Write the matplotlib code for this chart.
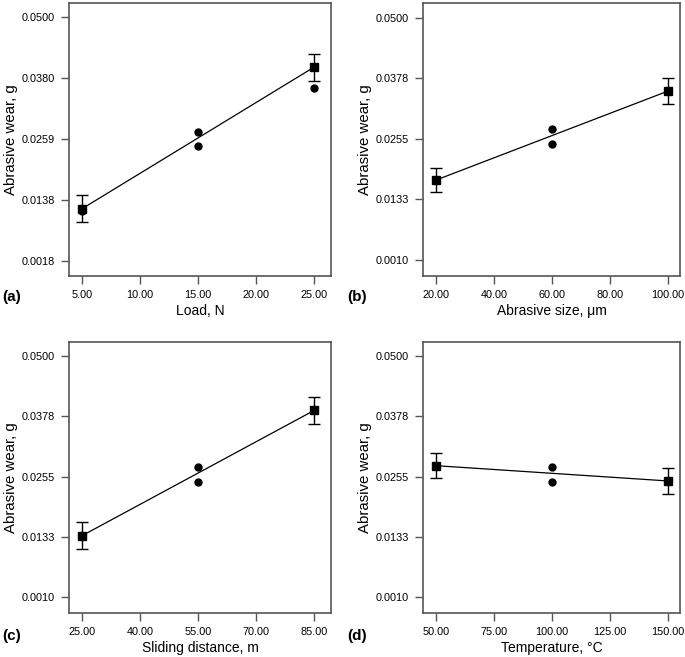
import matplotlib
matplotlib.use("Agg")
import matplotlib.pyplot as plt

plt.rcParams['font.family'] = ['Liberation Sans', 'DejaVu Sans']

# ---- data ----
labels = ["(a)", "(b)", "(c)", "(d)"]
xlabels = ["Load, N", "Abrasive size, \u03bcm", "Sliding distance, m", "Temperature, \u00b0C"]

a_x_end = [5, 25]
a_y_end = [0.0121, 0.0401]
a_err = [0.0027, 0.0027]
a_x_pts = [5, 15, 15, 25]
a_y_pts = [0.0117, 0.0273, 0.0245, 0.0360]
a_xticks = [5, 10, 15, 20, 25]
a_xticklabels = ["5.00", "10.00", "15.00", "20.00", "25.00"]
a_yticks = [0.0018, 0.0138, 0.0259, 0.0380, 0.0500]
a_yticklabels = ["0.0018", "0.0138", "0.0259", "0.0380", "0.0500"]

b_x_end = [20, 100]
b_y_end = [0.0172, 0.0352]
b_err = [0.0025, 0.0027]
b_x_pts = [60, 60]
b_y_pts = [0.0275, 0.0245]
b_xticks = [20, 40, 60, 80, 100]
b_xticklabels = ["20.00", "40.00", "60.00", "80.00", "100.00"]
b_yticks = [0.0010, 0.0133, 0.0255, 0.0378, 0.0500]
b_yticklabels = ["0.0010", "0.0133", "0.0255", "0.0378", "0.0500"]

c_x_end = [25, 85]
c_y_end = [0.0135, 0.0389]
c_err = [0.0027, 0.0027]
c_x_pts = [55, 55]
c_y_pts = [0.0275, 0.0244]
c_xticks = [25, 40, 55, 70, 85]
c_xticklabels = ["25.00", "40.00", "55.00", "70.00", "85.00"]
c_yticks = [0.0010, 0.0133, 0.0255, 0.0378, 0.0500]
c_yticklabels = ["0.0010", "0.0133", "0.0255", "0.0378", "0.0500"]

d_x_end = [50, 150]
d_y_end = [0.0277, 0.0246]
d_err = [0.0026, 0.0027]
d_x_pts = [100, 100]
d_y_pts = [0.0275, 0.0244]
d_xticks = [50, 75, 100, 125, 150]
d_xticklabels = ["50.00", "75.00", "100.00", "125.00", "150.00"]
d_yticks = [0.0010, 0.0133, 0.0255, 0.0378, 0.0500]
d_yticklabels = ["0.0010", "0.0133", "0.0255", "0.0378", "0.0500"]

panels = [
    (a_x_end, a_y_end, a_err, a_x_pts, a_y_pts, a_xticks, a_xticklabels, a_yticks, a_yticklabels,
     (3.88, 26.47), (-0.0012, 0.0528)),
    (b_x_end, b_y_end, b_err, b_x_pts, b_y_pts, b_xticks, b_xticklabels, b_yticks, b_yticklabels,
     (15.5, 104.1), (-0.0022, 0.0530)),
    (c_x_end, c_y_end, c_err, c_x_pts, c_y_pts, c_xticks, c_xticklabels, c_yticks, c_yticklabels,
     (21.6, 89.4), (-0.0022, 0.0528)),
    (d_x_end, d_y_end, d_err, d_x_pts, d_y_pts, d_xticks, d_xticklabels, d_yticks, d_yticklabels,
     (44.4, 155.2), (-0.0022, 0.0528)),
]

W, H = 685, 657
fig = plt.figure(figsize=(W / 100, H / 100), dpi=100)

rects = [
    (69, 3, 331, 276),
    (423, 3, 680, 276),
    (69, 342, 331, 613),
    (423, 342, 680, 613),
]
ylabel_x = [18, 372, 18, 372]

spine_col = "#555555"
for i, (p, r) in enumerate(zip(panels, rects)):
    xe, ye, err, xp, yp, xt, xtl, yt, ytl, xl, yl = p
    x0, y0, x1, y1 = r
    ax = fig.add_axes([x0 / W, 1 - y1 / H, (x1 - x0) / W, (y1 - y0) / H])
    ax.plot(xe, ye, color="black", lw=0.9, zorder=2)
    ax.errorbar(xe, ye, yerr=err, fmt="s", color="black", ms=5.5, capsize=4.5,
                elinewidth=1.0, capthick=1.0, zorder=3)
    ax.plot(xp, yp, "o", color="black", ms=5, zorder=3, linestyle="none")
    ax.set_xlim(*xl)
    ax.set_ylim(*yl)
    ax.set_xticks(xt)
    ax.set_xticklabels(xtl)
    ax.set_yticks(yt)
    ax.set_yticklabels(ytl)
    ax.tick_params(direction="out", length=6, width=1, color=spine_col,
                   labelsize=7.8, pad=4)
    for s in ax.spines.values():
        s.set_color(spine_col)
        s.set_linewidth(1.2)
    ax.set_xlabel(xlabels[i], fontsize=10, labelpad=3)
    ax.set_ylabel("Abrasive wear, g", fontsize=10.8)
    ax.yaxis.set_label_coords((ylabel_x[i] - x0) / (x1 - x0), 0.5)
    lx = 2 if i % 2 == 0 else 347
    ly = 297 if i < 2 else 636
    fig.text(lx / W, 1 - ly / H, labels[i], fontsize=11, fontweight="bold",
             va="center", ha="left")

fig.savefig("out.png", dpi=100)
